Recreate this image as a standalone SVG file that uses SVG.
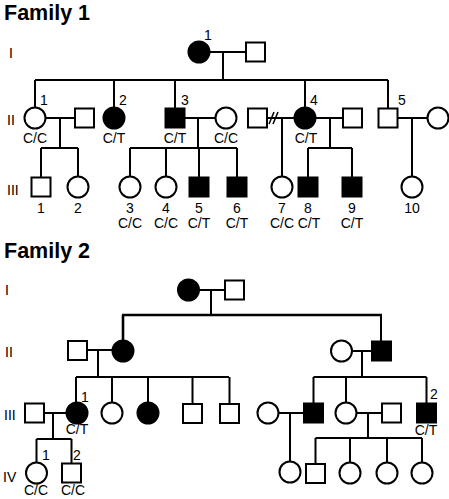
<svg xmlns="http://www.w3.org/2000/svg" width="449" height="499" viewBox="0 0 449 499">
<style>
.ln{stroke:#000;stroke-width:2;fill:none}
.o{fill:#fff;stroke:#000;stroke-width:2}
.f{fill:#000;stroke:#000;stroke-width:2}
.t{font-family:"Liberation Sans",Arial,sans-serif;font-size:14px;fill:#000}
.m{text-anchor:middle}
.h{font-family:"Liberation Sans",Arial,sans-serif;font-size:21.5px;font-weight:bold;fill:#000}
</style>
<rect width="449" height="499" fill="#fff"/>
<text class="h" x="4" y="20">Family 1</text>
<text class="h" x="4" y="258">Family 2</text>
<g id="generations" class="t">
<text x="9" y="58">I</text><text x="7" y="125">II</text><text x="7" y="195">III</text>
<text x="5" y="295">I</text><text x="5" y="357">II</text><text x="4" y="420">III</text><text x="3" y="482">IV</text>
</g>
<g id="connectors" class="ln">
<path d="M210 52H246M223 52V80M35 80H388M35 80V107.5M114 80V107.5M175 80V108.5M305 80V107.5M388 80V108.5"/>
<path d="M45.5 118H75M60 118V148M41 148H78M41 148V177.5M78 148V176.5"/>
<path d="M184.5 118H215.5M198 118V148M130 148H237M130 148V176.5M166 148V176.5M199 148V177.5M237 148V177.5"/>
<path d="M267 118H294.5M282 118V176.5"/>
<path d="M269 124L274 112M273 124L278 112" style="stroke-width:1.5"/>
<path d="M315.5 118H343M330 118V148M308 148H352M308 148V177.5M352 148V177.5"/>
<path d="M397.5 118H427.5M412 118V176.5"/>
<path d="M199 290H225M211 290V315M381 315V341"/>
<path d="M122 315H382M123 315V340.5" style="stroke-width:2.6"/>
<path d="M87 350H112.5M98 350V377M76 377H229M76 377V402.5M112 377V402.5M148 377V402.5M192.5 377V404M229.5 377V404"/>
<path d="M352 351H372M362 351V377M313.5 377H426.5M313.5 377V403M346 377V402.5M426.5 377V403"/>
<path d="M44 413H66.5M53 413V439M36.5 439H71.5M36.5 439V462.5M71.5 439V463"/>
<path d="M278.5 413H304M290 413V461.5"/>
<path d="M356.5 413H382M368 413V438M315.5 438H422M315.5 438V464M350 438V462.5M387 438V462.5M422 438V462.5"/>
</g>
<g id="f1-I-1"><circle class="f" cx="199" cy="52" r="10.5"/><text class="t" x="204" y="40">1</text></g>
<g id="f1-I-2"><rect class="o" x="246" y="42.5" width="19" height="19"/></g>
<g id="f1-II-1"><circle class="o" cx="35" cy="118" r="10.5"/><text class="t" x="40" y="105">1</text><text class="t m" x="35" y="143">C/C</text></g>
<g id="f1-II-1s"><rect class="o" x="75" y="108.5" width="19" height="19"/></g>
<g id="f1-II-2"><circle class="f" cx="114" cy="118" r="10.5"/><text class="t" x="119" y="105">2</text><text class="t m" x="114" y="143">C/T</text></g>
<g id="f1-II-3"><rect class="f" x="165.5" y="108.5" width="19" height="19"/><text class="t" x="181" y="105">3</text><text class="t m" x="175" y="143">C/T</text></g>
<g id="f1-II-3s"><circle class="o" cx="226" cy="118" r="10.5"/><text class="t m" x="226" y="143">C/C</text></g>
<g id="f1-II-4h1"><rect class="o" x="248" y="108.5" width="19" height="19"/></g>
<g id="f1-II-4"><circle class="f" cx="305" cy="118" r="10.5"/><text class="t" x="310" y="105">4</text><text class="t m" x="306" y="143">C/T</text></g>
<g id="f1-II-4h2"><rect class="o" x="343" y="108.5" width="19" height="19"/></g>
<g id="f1-II-5"><rect class="o" x="378.5" y="108.5" width="19" height="19"/><text class="t" x="398" y="105">5</text></g>
<g id="f1-II-5s"><circle class="o" cx="438" cy="118" r="10.5"/></g>
<g id="f1-III-1"><rect class="o" x="31.5" y="177.5" width="19" height="19"/><text class="t m" x="41" y="213">1</text></g>
<g id="f1-III-2"><circle class="o" cx="78" cy="187" r="10.5"/><text class="t m" x="78" y="213">2</text></g>
<g id="f1-III-3"><circle class="o" cx="130" cy="187" r="10.5"/><text class="t m" x="130" y="213">3</text><text class="t m" x="130" y="228">C/C</text></g>
<g id="f1-III-4"><circle class="o" cx="166" cy="187" r="10.5"/><text class="t m" x="166" y="213">4</text><text class="t m" x="166" y="228">C/C</text></g>
<g id="f1-III-5"><rect class="f" x="189.5" y="177.5" width="19" height="19"/><text class="t m" x="199" y="213">5</text><text class="t m" x="199" y="228">C/T</text></g>
<g id="f1-III-6"><rect class="f" x="227.5" y="177.5" width="19" height="19"/><text class="t m" x="237" y="213">6</text><text class="t m" x="237" y="228">C/T</text></g>
<g id="f1-III-7"><circle class="o" cx="282" cy="187" r="10.5"/><text class="t m" x="282" y="213">7</text><text class="t m" x="282" y="228">C/C</text></g>
<g id="f1-III-8"><rect class="f" x="298.5" y="177.5" width="19" height="19"/><text class="t m" x="308" y="213">8</text><text class="t m" x="309" y="228">C/T</text></g>
<g id="f1-III-9"><rect class="f" x="342.5" y="177.5" width="19" height="19"/><text class="t m" x="352" y="213">9</text><text class="t m" x="352" y="228">C/T</text></g>
<g id="f1-III-10"><circle class="o" cx="412" cy="187" r="10.5"/><text class="t m" x="412" y="213">10</text></g>
<g id="f2-I-1"><circle class="f" cx="188.5" cy="290" r="10.5"/></g>
<g id="f2-I-2"><rect class="o" x="225" y="280.5" width="19" height="19"/></g>
<g id="f2-II-1h"><rect class="o" x="68" y="341" width="19" height="19"/></g>
<g id="f2-II-1"><circle class="f" cx="123" cy="351" r="10.5"/></g>
<g id="f2-II-2w"><circle class="o" cx="341.5" cy="351" r="10.5"/></g>
<g id="f2-II-2"><rect class="f" x="372" y="341.5" width="19" height="19"/></g>
<g id="f2-III-1h"><rect class="o" x="25" y="403.5" width="19" height="19"/></g>
<g id="f2-III-1"><circle class="f" cx="77" cy="413" r="10.5"/><text class="t" x="81" y="402">1</text><text class="t m" x="77" y="434">C/T</text></g>
<g id="f2-III-a"><circle class="o" cx="112" cy="413" r="10.5"/></g>
<g id="f2-III-b"><circle class="f" cx="148" cy="413" r="10.5"/></g>
<g id="f2-III-c"><rect class="o" x="183" y="404" width="19" height="19"/></g>
<g id="f2-III-d"><rect class="o" x="220" y="404" width="19" height="19"/></g>
<g id="f2-III-ew"><circle class="o" cx="268" cy="413" r="10.5"/></g>
<g id="f2-III-e"><rect class="f" x="304" y="403.5" width="19" height="19"/></g>
<g id="f2-III-f"><circle class="o" cx="346" cy="413" r="10.5"/></g>
<g id="f2-III-fh"><rect class="o" x="382" y="403.5" width="19" height="19"/></g>
<g id="f2-III-2"><rect class="f" x="417" y="403.5" width="19" height="19"/><text class="t" x="430" y="399">2</text><text class="t m" x="426" y="435">C/T</text></g>
<g id="f2-IV-1"><circle class="o" cx="36.5" cy="473" r="10.5"/><text class="t" x="42" y="460">1</text><text class="t m" x="36" y="495">C/C</text></g>
<g id="f2-IV-2"><rect class="o" x="62" y="463.5" width="19" height="19"/><text class="t" x="73" y="460">2</text><text class="t m" x="73" y="495">C/C</text></g>
<g id="f2-IV-a"><circle class="o" cx="290" cy="472" r="10.5"/></g>
<g id="f2-IV-b"><rect class="o" x="306" y="464" width="19" height="19"/></g>
<g id="f2-IV-c"><circle class="o" cx="350" cy="473" r="10.5"/></g>
<g id="f2-IV-d"><circle class="o" cx="387" cy="473" r="10.5"/></g>
<g id="f2-IV-e"><circle class="o" cx="422" cy="473" r="10.5"/></g>
</svg>
